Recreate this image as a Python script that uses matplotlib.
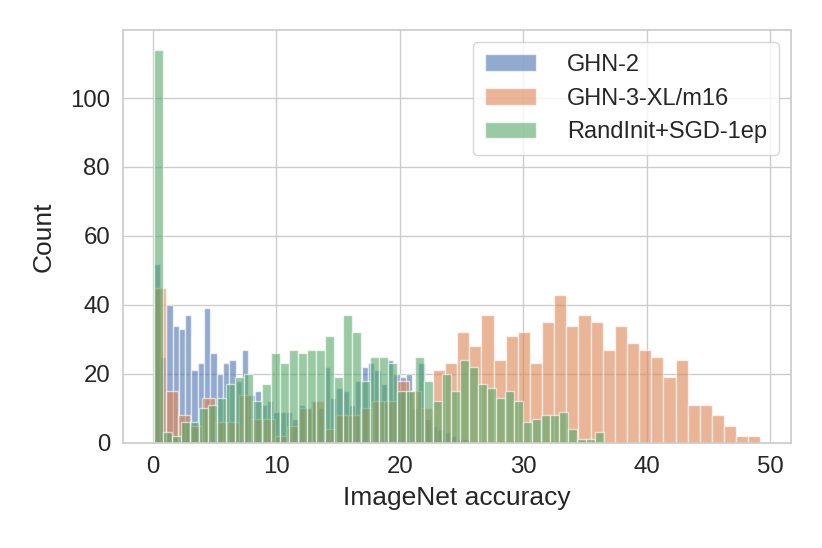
import numpy as np
import matplotlib
matplotlib.use("Agg")
import matplotlib.pyplot as plt
import seaborn as sns

# --- histogram counts (50 bins per series) ---
ghn2_range = (0.08, 25.6)
ghn2_counts = [52, 25, 40, 34, 33, 37, 21, 23, 39, 26,
               20, 23, 24, 18, 27, 14, 15, 11, 12, 9,
               9, 9, 7, 11, 10, 12, 10, 22, 13, 16,
               15, 11, 18, 22, 23, 21, 17, 24, 20, 19,
               20, 10, 23, 7, 5, 4, 3, 2, 1, 1]

ghn3_range = (0.1, 49.2)
ghn3_counts = [45, 15, 8, 5, 13, 6, 6, 14, 7, 7,
               2, 5, 10, 12, 4, 8, 8, 10, 12, 12,
               18, 15, 10, 21, 23, 32, 28, 37, 24, 31,
               32, 23, 35, 43, 34, 37, 35, 27, 34, 29,
               27, 25, 19, 24, 11, 11, 8, 5, 2, 2]

rand_range = (0.14, 36.54)
rand_counts = [114, 3, 2, 6, 6, 10, 11, 13, 17, 19,
               20, 12, 17, 26, 23, 27, 26, 27, 27, 31,
               19, 37, 32, 18, 25, 25, 23, 15, 15, 25,
               18, 12, 20, 15, 24, 22, 17, 16, 13, 15,
               12, 6, 7, 8, 8, 9, 4, 1, 1, 3]

labels = ['GHN-2', 'GHN-3-XL/m16', 'RandInit+SGD-1ep']

sns.set_theme(style="whitegrid")
plt.rcParams['font.family'] = ['Liberation Sans', 'DejaVu Sans']

fig, ax = plt.subplots(figsize=(8.22, 5.48), dpi=100)
fig.subplots_adjust(left=0.15, right=0.962, top=0.945, bottom=0.192)

for (lo, hi), counts, lbl in zip([ghn2_range, ghn3_range, rand_range],
                                 [ghn2_counts, ghn3_counts, rand_counts],
                                 labels):
    edges = np.linspace(lo, hi, len(counts) + 1)
    centers = (edges[:-1] + edges[1:]) / 2
    ax.hist(centers, bins=edges, weights=counts, alpha=0.6, label=lbl)

ax.set_xlabel('ImageNet accuracy', fontsize=19, labelpad=6)
ax.set_ylabel('Count', fontsize=19, labelpad=10)
ax.tick_params(labelsize=17.3)
ax.set_xticks([0, 10, 20, 30, 40, 50])
ax.set_yticks([0, 20, 40, 60, 80, 100])
ax.legend(fontsize=17, loc='upper right', handlelength=2.2,
          handletextpad=1.3, borderpad=0.5)

fig.savefig('out.png', dpi=100)
